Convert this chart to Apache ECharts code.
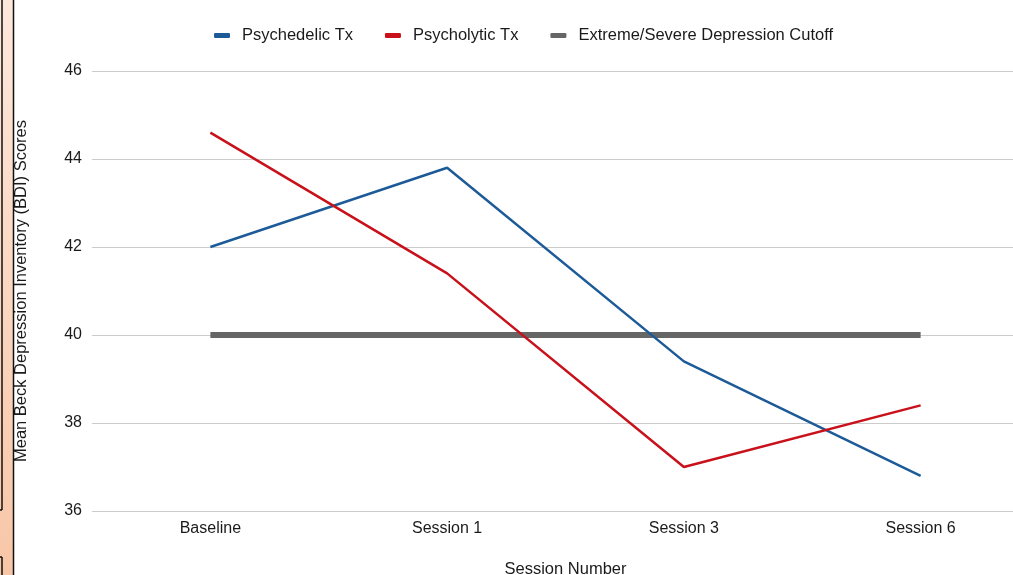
<!DOCTYPE html>
<html><head><meta charset="utf-8">
<script src="https://cdn.jsdelivr.net/npm/echarts@6/dist/echarts.min.js"></script>
<style>html,body{margin:0;padding:0;background:#fff}#c{width:1013px;height:575px}</style>
</head><body><div id="c"></div>
<script>
const categories = ['Baseline', 'Session 1', 'Session 3', 'Session 6'];
const psychedelic = [42.0, 43.8, 39.4, 36.8];
const psycholytic = [44.6, 41.4, 37.0, 38.4];
const cutoff = [40, 40, 40, 40];
const seriesNames = ['Psychedelic Tx', 'Psycholytic Tx', 'Extreme/Severe Depression Cutoff'];
const yMin = 36, yMax = 46, yStep = 2;

const chart = echarts.init(document.getElementById('c'), null, {renderer: 'canvas'});
const font = 'Liberation Sans, Arial, sans-serif';
chart.setOption({
  animation: false,
  backgroundColor: '#fff',
  textStyle: {fontFamily: font},
  legend: {
    top: 22, left: 209, itemGap: 32, itemWidth: 16, itemHeight: 5,
    icon: 'roundRect',
    textStyle: {fontSize: 16.5, color: '#1a1a1a', fontFamily: font, padding: [0, 0, 0, 7]},
    data: seriesNames
  },
  grid: {left: 92, width: 947, top: 71, height: 440, containLabel: false, outerBoundsMode: 'none'},
  xAxis: {
    type: 'category', data: categories, boundaryGap: true,
    name: 'Session Number', nameLocation: 'middle', nameGap: 50,
    nameTextStyle: {fontSize: 16.5, color: '#1a1a1a'},
    axisLine: {show: false}, axisTick: {show: false},
    axisLabel: {fontSize: 16, color: '#1a1a1a', margin: 10}
  },
  yAxis: {
    type: 'value', min: yMin, max: yMax, interval: yStep,
    name: 'Mean Beck Depression Inventory (BDI) Scores', nameLocation: 'middle', nameGap: 62,
    nameTextStyle: {fontSize: 16.5, color: '#1a1a1a'},
    axisLine: {show: false}, axisTick: {show: false},
    axisLabel: {fontSize: 16, color: '#1a1a1a', margin: 10},
    splitLine: {lineStyle: {color: '#cccccc', width: 1}}
  },
  series: [
    {name: seriesNames[0], type: 'line', data: psychedelic, symbol: 'none', color: '#1d5b98', lineStyle: {width: 2.5, color: '#1d5b98'}, z: 3},
    {name: seriesNames[1], type: 'line', data: psycholytic, symbol: 'none', color: '#c8111a', lineStyle: {width: 2.5, color: '#c8111a'}, z: 3},
    {name: seriesNames[2], type: 'line', data: cutoff, symbol: 'none', color: '#666666', lineStyle: {width: 6, color: '#666666'}, z: 2}
  ],
  graphic: [
    {type: 'rect', left: 0, top: 0, shape: {width: 13, height: 575}, z: 100,
     style: {fill: new echarts.graphic.LinearGradient(0, 0, 0, 1, [{offset: 0, color: '#fde8dc'}, {offset: 1, color: '#f8c6a7'}])}},
    {type: 'line', shape: {x1: 13.5, y1: 0, x2: 13.5, y2: 575}, style: {stroke: '#111', lineWidth: 1.5}, z: 101},
    {type: 'line', shape: {x1: 2, y1: 0, x2: 2, y2: 510}, style: {stroke: '#111', lineWidth: 1.5}, z: 101},
    {type: 'line', shape: {x1: 0, y1: 510, x2: 2, y2: 510}, style: {stroke: '#111', lineWidth: 1.5}, z: 101},
    {type: 'line', shape: {x1: 2, y1: 557, x2: 2, y2: 575}, style: {stroke: '#111', lineWidth: 1.5}, z: 101},
    {type: 'line', shape: {x1: 0, y1: 557, x2: 2, y2: 557}, style: {stroke: '#111', lineWidth: 1.5}, z: 101}
  ]
});
</script></body></html>
